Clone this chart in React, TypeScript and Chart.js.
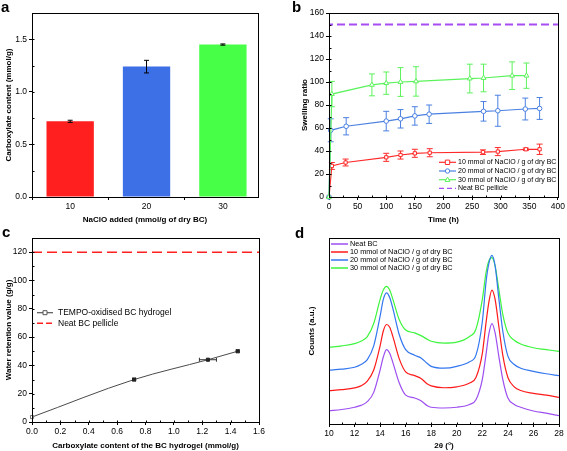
import React, { useEffect, useRef } from 'react';
import { Chart, registerables } from 'chart.js';

Chart.register(...registerables);

const FONT = "'Liberation Sans', Arial, Helvetica, sans-serif";
Chart.defaults.font.family = FONT;
Chart.defaults.color = '#000';

// ---------- Panel a ----------
const nacloAdded = [10, 20, 30];
const carboxylate = [0.72, 1.24, 1.45];
const carboxylateErr = [0.01, 0.06, 0.006];
const aTicksX = [10, 20, 30];
const aTicksY = [0, 0.5, 1.0, 1.5];

// ---------- Panel b ----------
const time10 = [0, 5, 29, 100, 125, 150, 176, 269, 295, 344, 368];
const swell10 = [0, 27, 30, 34.5, 36.5, 38, 38.5, 39, 39.5, 41.5, 41.5];
const err10 = [0, 3, 3, 3.5, 3.5, 3.5, 3.5, 2, 3.5, 1, 4.5];
const time20 = [0, 3, 30, 100, 125, 150, 175, 270, 295, 343, 368];
const swell20 = [0, 58, 61.5, 66, 68, 70.5, 72, 74.5, 75, 76.5, 77];
const err20 = [0, 10, 7.5, 8.5, 8, 8, 8, 8.5, 13.5, 9.5, 9.5];
const time30 = [0, 5, 75, 100, 125, 152, 246, 270, 320, 345];
const swell30 = [0, 89.5, 97.5, 99, 100, 100.5, 103, 103.5, 105.5, 105.5];
const err30 = [0, 11, 9.5, 9.7, 12.5, 12.8, 12.5, 12, 12, 11];
const neatSwelling = 150;
const bTicksX = [0, 50, 100, 150, 200, 250, 300, 350, 400];
const bTicksY = [0, 20, 40, 60, 80, 100, 120, 140, 160];

// ---------- Panel c ----------
const carboxContent = [0, 0.72, 1.24, 1.45];
const waterRetention = [3.5, 30, 44, 50];
const carboxContentErr = [0, 0.01, 0.06, 0.01];
const neatRetention = 120;
const cTicksX = [0, 0.2, 0.4, 0.6, 0.8, 1.0, 1.2, 1.4, 1.6];
const cTicksY = [0, 20, 40, 60, 80, 100, 120];

// ---------- Panel d ----------
const twoTheta = [10, 11, 12, 12.5, 13, 13.5, 14, 14.25, 14.5, 14.75, 15, 15.5, 16, 16.7, 17.2, 17.7, 18, 19, 20, 21, 21.5, 22, 22.3, 22.5, 22.75, 23, 23.3, 23.6, 24, 24.5, 25, 26, 27, 28];
const countsNeat = [7.2, 7.8, 9.0, 10, 12, 17, 29, 36, 40, 38, 33, 22, 15.5, 14, 12.5, 9.8, 9, 8.6, 9, 10.5, 13, 24, 38, 48, 54, 49, 36, 24, 14, 10.5, 9, 7, 5.8, 4.5];
const counts10 = [17.9, 18.5, 19.4, 20.5, 23, 29, 42, 50, 53.5, 52, 47, 35, 28, 26, 24.5, 21.5, 20.5, 19.5, 20, 22, 25, 38, 55, 65, 72, 67, 52, 37, 25, 20, 18, 16.5, 15.5, 14.3];
const counts20 = [28.9, 29.5, 30.5, 32, 34.6, 42, 58, 67, 70.5, 68, 62, 48, 40, 37, 35.5, 32.5, 31, 30, 31, 33.5, 37, 55, 77, 86, 90.7, 85, 67, 50, 36.5, 32, 30, 28.3, 27, 26];
const counts30 = [41.2, 42, 43.2, 44.5, 47, 54, 67, 72, 74, 72, 67, 56, 50.5, 49, 47.5, 45.5, 44.5, 43.5, 44, 47, 51, 67, 82, 87.5, 89.5, 85, 72, 59, 49, 45, 43, 41, 40, 39];
const dTicksX = [10, 12, 14, 16, 18, 20, 22, 24, 26, 28];

const LBL10 = '10 mmol of NaClO / g of dry BC';
const LBL20 = '20 mmol of NaClO / g of dry BC';
const LBL30 = '30 mmol of NaClO / g of dry BC';

function drawMarker(ctx: any, style: string, x: number, y: number, r: number, fill: string, stroke: string) {
  ctx.beginPath();
  if (style === 'rect') ctx.rect(x - r, y - r, 2 * r, 2 * r);
  else if (style === 'circle') ctx.arc(x, y, r, 0, Math.PI * 2);
  else if (style === 'triangle') {
    ctx.moveTo(x, y - r * 1.2);
    ctx.lineTo(x + r * 1.1, y + r * 0.8);
    ctx.lineTo(x - r * 1.1, y + r * 0.8);
    ctx.closePath();
  }
  ctx.fillStyle = fill;
  ctx.fill();
  ctx.setLineDash([]);
  ctx.strokeStyle = stroke;
  ctx.lineWidth = 1;
  ctx.stroke();
}

function drawErrors(chart: any) {
  const ctx = chart.ctx;
  const xs = chart.scales.x;
  const ys = chart.scales.y;
  chart.data.datasets.forEach((ds: any, i: number) => {
    if (!ds.yErr && !ds.xErr) return;
    const meta = chart.getDatasetMeta(i);
    ctx.save();
    ctx.strokeStyle = ds.errColor || ds.borderColor;
    ctx.lineWidth = 1;
    const cap = ds.capW ?? 3;
    const seg = (x1: number, y1: number, x2: number, y2: number) => {
      ctx.beginPath();
      ctx.moveTo(x1, y1);
      ctx.lineTo(x2, y2);
      ctx.stroke();
    };
    meta.data.forEach((el: any, j: number) => {
      const d = ds.data[j];
      const yv = typeof d === 'number' ? d : d.y;
      const xv = typeof d === 'number' ? null : d.x;
      const px = el.x;
      const py = ys.getPixelForValue(yv);
      const ye = ds.yErr ? ds.yErr[j] : 0;
      if (ye) {
        const t = ys.getPixelForValue(yv + ye);
        const b = ys.getPixelForValue(yv - ye);
        seg(px, t, px, b);
        seg(px - cap, t, px + cap, t);
        seg(px - cap, b, px + cap, b);
      }
      const xe = ds.xErr ? ds.xErr[j] : 0;
      if (xe && xv != null) {
        const l = xs.getPixelForValue(xv - xe);
        const r = xs.getPixelForValue(xv + xe);
        seg(l, py, r, py);
        seg(l, py - cap, l, py + cap);
        seg(r, py - cap, r, py + cap);
      }
    });
    ctx.restore();
  });
}

const errorBarPlugin = {
  id: 'errorBars',
  beforeDatasetsDraw(chart: any, _a: any, opts: any) {
    if (!opts || !opts.onTop) drawErrors(chart);
  },
  afterDatasetsDraw(chart: any, _a: any, opts: any) {
    if (opts && opts.onTop) drawErrors(chart);
  },
};

const framePlugin = {
  id: 'frame',
  afterDraw(chart: any, _a: any, opts: any) {
    const { ctx, chartArea: a } = chart;
    ctx.save();
    ctx.strokeStyle = '#000';
    ctx.lineWidth = 1;
    ctx.setLineDash([]);
    const L = Math.round(a.left) + 0.5;
    const T = Math.round(a.top) + 0.5;
    const R = Math.round(a.right) + 0.5;
    const B = Math.round(a.bottom) + 0.5;
    ctx.strokeRect(L, T, R - L, B - T);
    const seg = (x1: number, y1: number, x2: number, y2: number) => {
      ctx.beginPath();
      ctx.moveTo(x1, y1);
      ctx.lineTo(x2, y2);
      ctx.stroke();
    };
    if (opts && opts.xMinor) {
      const s = chart.scales.x;
      const n = Math.round((s.max - s.min) / opts.xMinor);
      for (let k = 0; k <= n; k++) {
        const p = Math.round(s.getPixelForValue(s.min + k * opts.xMinor)) + 0.5;
        seg(p, B, p, B - 2);
      }
    }
    if (opts && opts.yMinor) {
      const s = chart.scales.y;
      const n = Math.round((s.max - s.min) / opts.yMinor);
      for (let k = 0; k <= n; k++) {
        const p = Math.round(s.getPixelForValue(s.min + k * opts.yMinor)) + 0.5;
        seg(L, p, L + 2, p);
      }
    }
    ctx.restore();
  },
};

const legendPlugin = {
  id: 'customLegend',
  afterDraw(chart: any, _a: any, opts: any) {
    if (!opts || !opts.items) return;
    const ctx = chart.ctx;
    ctx.save();
    ctx.font = `${opts.fontSize}px ${FONT}`;
    ctx.textBaseline = 'middle';
    ctx.textAlign = 'left';
    opts.items.forEach((it: any, i: number) => {
      const y = opts.y0 + i * opts.dy;
      ctx.beginPath();
      ctx.setLineDash(it.dash || []);
      ctx.strokeStyle = it.color;
      ctx.lineWidth = it.lineWidth || 1.2;
      ctx.moveTo(opts.x1, y);
      ctx.lineTo(opts.x2, y);
      ctx.stroke();
      ctx.setLineDash([]);
      if (it.marker) drawMarker(ctx, it.marker, (opts.x1 + opts.x2) / 2, y, it.r || 2.2, '#fff', it.color);
      ctx.fillStyle = '#000';
      ctx.fillText(it.label, opts.tx, y);
    });
    ctx.restore();
  },
};

function axis(o: any) {
  return {
    type: 'linear',
    min: o.min,
    max: o.max,
    offset: false,
    afterBuildTicks: (s: any) => {
      if (o.ticks) s.ticks = o.ticks.map((v: number) => ({ value: v }));
    },
    afterFit: (s: any) => {
      if (o.isX) s.height = o.size;
      else s.width = o.size;
    },
    ticks: {
      display: o.showTicks !== false,
      font: { size: 8.5 },
      color: '#000',
      padding: 2,
      autoSkip: false,
      maxRotation: 0,
      ...(o.fmt ? { callback: o.fmt } : {}),
    },
    grid: {
      display: o.showTicks !== false,
      drawOnChartArea: false,
      drawTicks: true,
      tickLength: 3,
      color: '#000',
      lineWidth: 1,
    },
    border: { display: false },
    title: {
      display: true,
      text: o.title,
      font: { size: 8, weight: 'bold' },
      color: '#000',
      padding: { top: o.titlePad, bottom: 0 },
    },
  };
}

const xy = (xsArr: number[], ysArr: number[]) => xsArr.map((x, i) => ({ x, y: ysArr[i] }));

function configA(): any {
  return {
    type: 'bar',
    data: {
      datasets: [
        {
          data: xy(nacloAdded, carboxylate),
          backgroundColor: ['#ff1f1f', '#3d6fe6', '#47ff47'],
          borderWidth: 0,
          barPercentage: 0.62,
          categoryPercentage: 1,
          yErr: carboxylateErr,
          errColor: '#000',
          capW: 2.5,
        },
      ],
    },
    options: {
      responsive: false,
      animation: false,
      layout: { padding: { left: 0, top: 13, right: 25, bottom: 0 } },
      scales: {
        x: axis({ min: 5, max: 34.6, ticks: aTicksX, isX: true, size: 28, title: 'NaClO added (mmol/g of dry BC)', titlePad: 2 }),
        y: axis({ min: 0, max: 1.75, ticks: aTicksY, size: 32, title: 'Carboxylate content (mmol/g)', titlePad: 4, fmt: (v: number) => v.toFixed(1) }),
      },
      plugins: {
        legend: { display: false },
        tooltip: { enabled: false },
        errorBars: { onTop: true },
        frame: { yMinor: 0.25 },
      },
    },
    plugins: [errorBarPlugin, framePlugin],
  };
}

function lineDs(xsArr: number[], ysArr: number[], errs: number[], color: string, style: string) {
  return {
    data: xy(xsArr, ysArr),
    borderColor: color,
    borderWidth: 1.2,
    pointStyle: style,
    pointRadius: style === 'triangle' ? 2.8 : 2.3,
    pointBackgroundColor: '#fff',
    pointBorderColor: color,
    pointBorderWidth: 1,
    tension: 0,
    clip: false,
    yErr: errs,
    capW: 3,
  };
}

function configB(): any {
  return {
    type: 'line',
    data: {
      datasets: [
        {
          data: [{ x: 0, y: neatSwelling }, { x: 400, y: neatSwelling }],
          borderColor: '#a64cf2',
          borderWidth: 2,
          borderDash: [8, 4],
          borderDashOffset: -8,
          pointRadius: 0,
        },
        lineDs(time30, swell30, err30, '#5cf25c', 'triangle'),
        lineDs(time20, swell20, err20, '#4a80e0', 'circle'),
        lineDs(time10, swell10, err10, '#ff2a2a', 'rect'),
      ],
    },
    options: {
      responsive: false,
      animation: false,
      layout: { padding: { left: 0, top: 13, right: 8, bottom: 0 } },
      scales: {
        x: axis({ min: 0, max: 400, ticks: bTicksX, isX: true, size: 28, title: 'Time (h)', titlePad: 0 }),
        y: axis({ min: 0, max: 160, ticks: bTicksY, size: 46, title: 'Swelling ratio', titlePad: 17 }),
      },
      plugins: {
        legend: { display: false },
        tooltip: { enabled: false },
        errorBars: { onTop: false },
        frame: { xMinor: 25, yMinor: 10 },
        customLegend: {
          fontSize: 7,
          x1: 156,
          x2: 173,
          tx: 175,
          y0: 162.3,
          dy: 8.7,
          items: [
            { label: LBL10, color: '#ff2a2a', marker: 'rect' },
            { label: LBL20, color: '#4a80e0', marker: 'circle' },
            { label: LBL30, color: '#5cf25c', marker: 'triangle' },
            { label: 'Neat BC pellicle', color: '#a64cf2', dash: [5, 3], lineWidth: 1.2 },
          ],
        },
      },
    },
    plugins: [errorBarPlugin, framePlugin, legendPlugin],
  };
}

function configC(): any {
  return {
    type: 'line',
    data: {
      datasets: [
        {
          data: [{ x: 0, y: neatRetention }, { x: 1.6, y: neatRetention }],
          borderColor: '#ff2020',
          borderWidth: 1.5,
          borderDash: [10, 5],
          pointRadius: 0,
        },
        {
          data: xy(carboxContent, waterRetention),
          borderColor: '#4a4a4a',
          borderWidth: 1,
          pointStyle: 'rect',
          pointRadius: 2.2,
          pointBackgroundColor: ['#ffffff', '#222', '#222', '#222'],
          pointBorderColor: ['#777', '#222', '#222', '#222'],
          pointBorderWidth: 1,
          cubicInterpolationMode: 'monotone',
          clip: false,
          xErr: carboxContentErr,
          errColor: '#333',
          capW: 2,
        },
      ],
    },
    options: {
      responsive: false,
      animation: false,
      layout: { padding: { left: 0, top: 13, right: 24, bottom: 0 } },
      scales: {
        x: axis({ min: 0, max: 1.6, ticks: cTicksX, isX: true, size: 29, title: 'Carboxylate content of the BC hydrogel (mmol/g)', titlePad: 1.2, fmt: (v: number) => v.toFixed(1) }),
        y: axis({ min: 0, max: 130, ticks: cTicksY, size: 32, title: 'Water retention value (g/g)', titlePad: 3.5 }),
      },
      plugins: {
        legend: { display: false },
        tooltip: { enabled: false },
        errorBars: { onTop: false },
        frame: { xMinor: 0.1, yMinor: 10 },
        customLegend: {
          fontSize: 8.5,
          x1: 37,
          x2: 53,
          tx: 58,
          y0: 87.7,
          dy: 10.6,
          items: [
            { label: 'TEMPO-oxidised BC hydrogel', color: '#555', marker: 'rect', r: 2 },
            { label: 'Neat BC pellicle', color: '#ff2020', dash: [6, 3], lineWidth: 1.5 },
          ],
        },
      },
    },
    plugins: [errorBarPlugin, framePlugin, legendPlugin],
  };
}

function xrdDs(vals: number[], color: string) {
  return {
    data: xy(twoTheta, vals),
    borderColor: color,
    borderWidth: 1.2,
    pointRadius: 0,
    cubicInterpolationMode: 'monotone',
  };
}

function configD(): any {
  return {
    type: 'line',
    data: {
      datasets: [
        xrdDs(countsNeat, '#9d4ef0'),
        xrdDs(counts10, '#ff1a1a'),
        xrdDs(counts20, '#3377f0'),
        xrdDs(counts30, '#3cf53c'),
      ],
    },
    options: {
      responsive: false,
      animation: false,
      layout: { padding: { left: 0, top: 13, right: 8, bottom: 0 } },
      scales: {
        x: axis({ min: 10, max: 28, ticks: dTicksX, isX: true, size: 27, title: '2θ (°)', titlePad: 1.2 }),
        y: axis({ min: 0, max: 100, size: 46, title: 'Counts (a.u.)', titlePad: 24, showTicks: false }),
      },
      plugins: {
        legend: { display: false },
        tooltip: { enabled: false },
        frame: { xMinor: 1 },
        customLegend: {
          fontSize: 7.3,
          x1: 48,
          x2: 65,
          tx: 67,
          y0: 19,
          dy: 8,
          items: [
            { label: 'Neat BC', color: '#9d4ef0', lineWidth: 1.5 },
            { label: LBL10, color: '#ff1a1a', lineWidth: 1.5 },
            { label: LBL20, color: '#3377f0', lineWidth: 1.5 },
            { label: LBL30, color: '#3cf53c', lineWidth: 1.5 },
          ],
        },
      },
    },
    plugins: [framePlugin, legendPlugin],
  };
}

function Panel(props: { left: number; top: number; width: number; height: number; make: () => any }) {
  const ref = useRef<HTMLCanvasElement | null>(null);
  useEffect(() => {
    if (!ref.current) return;
    const chart = new Chart(ref.current, props.make());
    return () => chart.destroy();
  }, []);
  return (
    <div style={{ position: 'absolute', left: props.left, top: props.top, width: props.width, height: props.height }}>
      <canvas ref={ref} width={props.width} height={props.height} style={{ width: props.width, height: props.height, display: 'block' }} />
    </div>
  );
}

const labelStyle = (left: number, top: number): React.CSSProperties => ({
  position: 'absolute',
  left,
  top,
  fontFamily: FONT,
  fontWeight: 'bold',
  fontSize: 15,
  lineHeight: '15px',
  color: '#000',
});

export default function App() {
  return (
    <div style={{ position: 'absolute', left: 0, top: 0, width: 567, height: 451, background: '#fff', overflow: 'hidden' }}>
      <Panel left={0} top={0} width={283} height={225} make={configA} />
      <Panel left={283} top={0} width={284} height={225} make={configB} />
      <Panel left={0} top={225} width={283} height={226} make={configC} />
      <Panel left={283} top={225} width={284} height={226} make={configD} />
      <div style={labelStyle(1, -1)}>a</div>
      <div style={labelStyle(292, -1)}>b</div>
      <div style={labelStyle(2, 224)}>c</div>
      <div style={labelStyle(295, 225)}>d</div>
    </div>
  );
}
